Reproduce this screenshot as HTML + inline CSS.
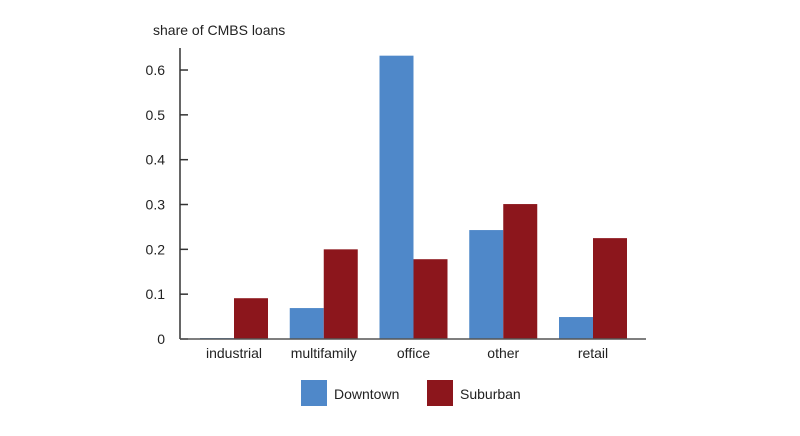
<!DOCTYPE html>
<html><head><meta charset="utf-8"><style>
body{margin:0;background:#fff;font-family:"Liberation Sans",Arial,sans-serif}
svg text{font-family:"Liberation Sans",Arial,sans-serif;fill:#222}
</style></head><body>
<svg id="c" width="800" height="431">
<text x="153" y="35" font-size="14">share of CMBS loans</text>
<g id="g"></g>
</svg>
<script>
const categories=["industrial","multifamily","office","other","retail"];
const downtown=[0.002,0.069,0.632,0.243,0.049];
const suburban=[0.091,0.2,0.178,0.301,0.225];
const yTicks=[0,0.1,0.2,0.3,0.4,0.5,0.6];
const yTickLabels=["0","0.1","0.2","0.3","0.4","0.5","0.6"];
const NS="http://www.w3.org/2000/svg",g=document.getElementById('g');
const y0=339,pxPer=448.3,x0=180,x1=646,cx0=234,step=89.75,bw=34;
const y=v=>y0-v*pxPer, xc=i=>cx0+i*step;
function mk(t,a){const e=document.createElementNS(NS,t);for(const k in a)e.setAttribute(k,a[k]);g.appendChild(e);return e;}
categories.forEach((c,i)=>{
 let b=mk('rect',{x:xc(i)-bw,y:y(downtown[i]),width:bw,height:y0-y(downtown[i]),fill:'#4f88c9'});
 
 
 let s=mk('rect',{x:xc(i),y:y(suburban[i]),width:bw,height:y0-y(suburban[i]),fill:'#8c161c'});
 
 
 let t=mk('text',{x:xc(i),y:358,'font-size':14,'text-anchor':'middle'});t.textContent=c;
 
 
});
yTicks.forEach((v,i)=>{
 let l=mk('line',{x1:x0,x2:x0+8,y1:y(v),y2:y(v),stroke:'#333','stroke-width':1.5});
 
 
 let t=mk('text',{x:165,y:y(v)+5,'font-size':14,'text-anchor':'end'});t.textContent=yTickLabels[i];
 
 
});
let ax=mk('line',{x1:x0,x2:x0,y1:48,y2:y0,stroke:'#333','stroke-width':1.5});


let bx=mk('line',{x1:x0,x2:x1,y1:y0,y2:y0,stroke:'#555','stroke-width':1.5});


[["Downtown","#4f88c9",301],["Suburban","#8c161c",427]].forEach(([n,c,x])=>{
 let r=mk('rect',{x:x,y:380,width:26,height:26,fill:c});
 
 
 let t=mk('text',{x:x+33,y:399,'font-size':14});t.textContent=n;
 
 
});
</script>
</body></html>
